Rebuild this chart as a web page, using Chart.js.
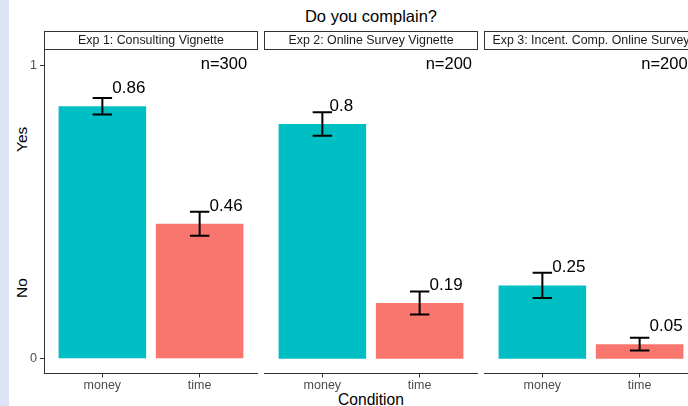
<!DOCTYPE html>
<html>
<head>
<meta charset="utf-8">
<script src="https://cdn.jsdelivr.net/npm/chart.js@4/dist/chart.umd.min.js"></script>
<style>
  html, body { margin: 0; padding: 0; background: #ffffff; }
  body { width: 688px; height: 406px; overflow: hidden; position: relative; font-family: 'Liberation Sans', Arial, Helvetica, sans-serif; }
  .sidebar { position: absolute; left: 0; top: 0; width: 9px; height: 406px; background: #dce3f4; }
  canvas { position: absolute; top: 0; }
  .label { position: absolute; white-space: nowrap; color: #000; line-height: 1; }
  .title { font-size: 16.5px; left: 0; width: 742px; text-align: center; top: 8px; }
  .xtitle { font-size: 15.6px; left: 0; width: 742px; text-align: center; top: 392px; }
  .ytitle { font-size: 15.5px; left: 20px; transform-origin: 0 0; }
</style>
</head>
<body>
<div class="sidebar"></div>
<div class="label title">Do you complain?</div>
<div class="label xtitle">Condition</div>
<div class="label ytitle" id="yesLabel">Yes</div>
<div class="label ytitle" id="noLabel">No</div>
<canvas id="panel0" width="258" height="406" style="left:0px"></canvas>
<canvas id="panel1" width="214" height="406" style="left:264px"></canvas>
<canvas id="panel2" width="214" height="406" style="left:484px"></canvas>
<script>
// Share answering "Yes" per condition, one entry per experiment
const categories = ['money', 'time'];
const panelTitles = ['Exp 1: Consulting Vignette', 'Exp 2: Online Survey Vignette', 'Exp 3: Incent. Comp. Online Survey'];
const sampleSizes = ['n=300', 'n=200', 'n=200'];
const moneyShare = [0.86, 0.80, 0.25];
const timeShare = [0.46, 0.19, 0.05];
const moneySE = [0.028, 0.040, 0.043];
const timeSE = [0.041, 0.039, 0.022];
const yTicks = [0, 1];
const sampleLabelX = [2.25, 2.3, 2.255];

const TEAL = '#00BFC4';
const SALMON = '#F8766D';
const AXIS = '#333333';
const TICK_TEXT = '#4d4d4d';
const FONT = "'Liberation Sans', Arial, Helvetica, sans-serif";

Chart.defaults.font.family = FONT;

// Rotated y-axis captions
function placeYTitle(id, centerY) {
  const el = document.getElementById(id);
  const w = el.getBoundingClientRect().width;
  el.style.top = (centerY + w / 2) + 'px';
  el.style.left = '14px';
  el.style.transform = 'rotate(-90deg)';
}
placeYTitle('yesLabel', 139);
placeYTitle('noLabel', 288);

// Strip header, error bars and value annotations for each facet
const facetDecor = {
  id: 'facetDecor',
  afterDraw(chart, args, opts) {
    const ctx = chart.ctx;
    const area = chart.chartArea;
    const xs = chart.scales.x;
    const ys = chart.scales.y;
    const ds = chart.data.datasets[0];

    // strip
    ctx.save();
    ctx.fillStyle = '#ffffff';
    ctx.strokeStyle = AXIS;
    ctx.lineWidth = 1;
    ctx.fillRect(area.left, 31, area.right - area.left, 19);
    ctx.strokeRect(area.left + 0.5, 31.5, area.right - area.left - 1, 18);
    ctx.fillStyle = '#1a1a1a';
    ctx.font = '12.4px ' + FONT;
    ctx.textAlign = 'center';
    ctx.textBaseline = 'middle';
    ctx.fillText(opts.title, (area.left + area.right) / 2, 41);
    ctx.restore();

    // error bars
    ctx.save();
    ctx.strokeStyle = '#000000';
    ctx.lineWidth = 2;
    ds.data.forEach((pt, k) => {
      const se = ds.errors[k];
      const cx = xs.getPixelForValue(pt.x);
      const x0 = xs.getPixelForValue(pt.x - 0.1);
      const x1 = xs.getPixelForValue(pt.x + 0.1);
      const yTop = ys.getPixelForValue(pt.y + se);
      const yBot = ys.getPixelForValue(pt.y - se);
      ctx.beginPath();
      ctx.moveTo(cx, yTop); ctx.lineTo(cx, yBot);
      ctx.moveTo(x0, yTop); ctx.lineTo(x1, yTop);
      ctx.moveTo(x0, yBot); ctx.lineTo(x1, yBot);
      ctx.stroke();
    });
    ctx.restore();

    // value labels
    ctx.save();
    ctx.fillStyle = '#000000';
    ctx.font = '17px ' + FONT;
    ctx.textAlign = 'left';
    ctx.textBaseline = 'middle';
    ds.data.forEach((pt) => {
      const txt = String(pt.y);
      const w = ctx.measureText(txt).width;
      const cx = xs.getPixelForValue(pt.x);
      ctx.fillText(txt, cx + 0.3 * w, ys.getPixelForValue(pt.y + 0.06));
    });
    ctx.font = '16.5px ' + FONT;
    ctx.textAlign = 'center';
    ctx.fillText(opts.sample, xs.getPixelForValue(opts.sampleX), ys.getPixelForValue(1.003));
    ctx.restore();
  }
};

function buildPanel(idx, withYAxis) {
  const canvas = document.getElementById('panel' + idx);
  return new Chart(canvas, {
    type: 'bar',
    data: {
      datasets: [{
        data: [
          { x: 1, y: moneyShare[idx] },
          { x: 2, y: timeShare[idx] }
        ],
        errors: [moneySE[idx], timeSE[idx]],
        backgroundColor: [TEAL, SALMON],
        borderWidth: 0,
        barPercentage: 0.9,
        categoryPercentage: 1.0
      }]
    },
    options: {
      responsive: false,
      animation: false,
      devicePixelRatio: 1,
      events: [],
      layout: { padding: { top: 50.5, left: 0, right: 0, bottom: 0 } },
      plugins: {
        legend: { display: false },
        tooltip: { enabled: false },
        facetDecor: { title: panelTitles[idx], sample: sampleSizes[idx], sampleX: sampleLabelX[idx] }
      },
      scales: {
        x: {
          type: 'linear',
          min: 0.4,
          max: 2.6,
          offset: false,
          afterBuildTicks: (s) => { s.ticks = categories.map((c, k) => ({ value: k + 1 })); },
          afterFit: (s) => { s.height = 32.5; },
          ticks: {
            callback: (v, i) => categories[i],
            color: TICK_TEXT,
            font: { size: 12.5, family: FONT },
            padding: 0.5,
            maxRotation: 0,
            autoSkip: false
          },
          grid: { offset: false, drawOnChartArea: false, tickLength: 4, color: AXIS },
          border: { display: true, color: AXIS, width: 1 }
        },
        y: {
          display: withYAxis,
          min: -0.05,
          max: 1.05,
          afterBuildTicks: (s) => { s.ticks = yTicks.map(v => ({ value: v })); },
          afterFit: (s) => { s.width = withYAxis ? 44 : 0; },
          ticks: {
            color: TICK_TEXT,
            font: { size: 12.5, family: FONT },
            padding: 3,
            callback: (v) => String(v)
          },
          grid: { drawOnChartArea: false, tickLength: 4, color: AXIS },
          border: { display: true, color: AXIS, width: 1 }
        }
      }
    },
    plugins: [facetDecor]
  });
}

buildPanel(0, true);
buildPanel(1, false);
buildPanel(2, false);
</script>
</body>
</html>
